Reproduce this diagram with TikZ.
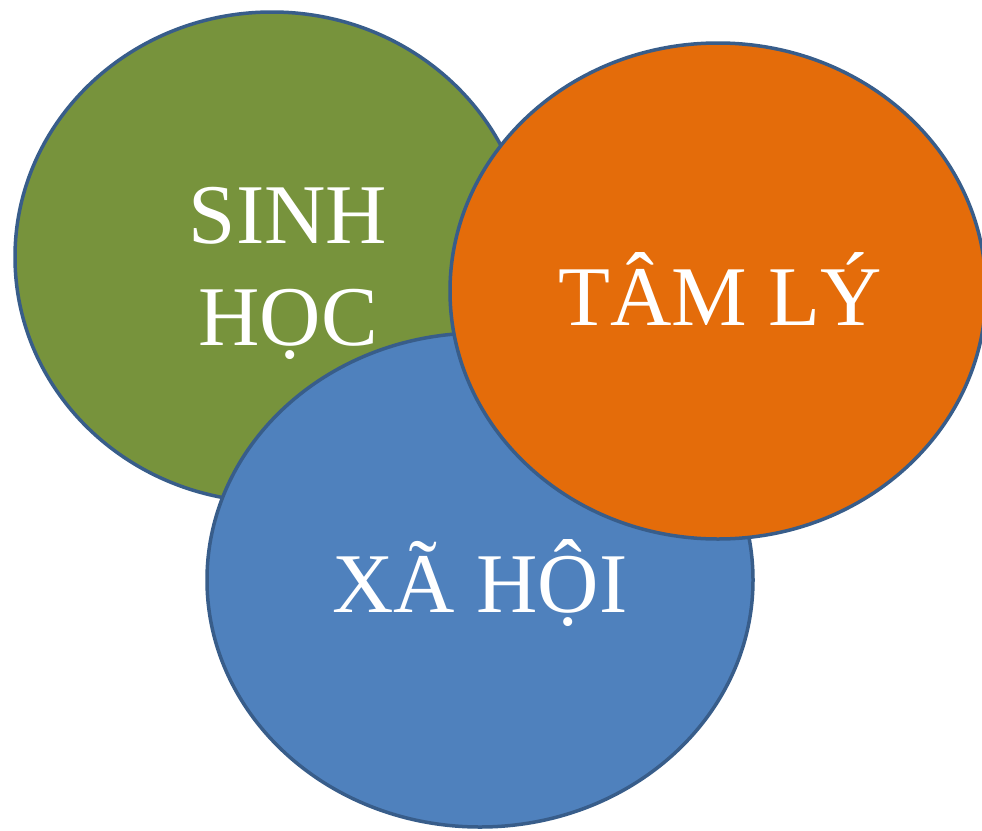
\documentclass[tikz,border=0pt]{standalone}
\usepackage{fontspec}
\setmainfont{Liberation Serif}
\definecolor{cgreen}{HTML}{77933C}
\definecolor{corange}{HTML}{E46C0A}
\definecolor{cblue}{HTML}{4F81BD}
\definecolor{cedge}{HTML}{385D8A}
\begin{document}
\begin{tikzpicture}[x=1pt,y=-1pt,
  blob/.style={draw=cedge,line width=3.5pt},
  lbl/.style={text=white,font=\fontsize{85}{100}\selectfont,anchor=base,inner sep=0pt}]
\useasboundingbox (0,0) rectangle (982,830);
\fill[blob,fill=cgreen] (272,257) ellipse [x radius=257, y radius=245];
\fill[blob,fill=cblue] (480,580) ellipse [x radius=273, y radius=247];
\fill[blob,fill=corange] (718,291) ellipse [x radius=268, y radius=248];
\node[lbl] (sinh) at (288,243) {SINH};
\node[lbl] (hoc) at (288,345) {HỌC};
\node[lbl] (tam) at (720,325) {TÂM LÝ};
\node[lbl] (xa) at (480,612) {XÃ HỘI};
\end{tikzpicture}
\end{document}
